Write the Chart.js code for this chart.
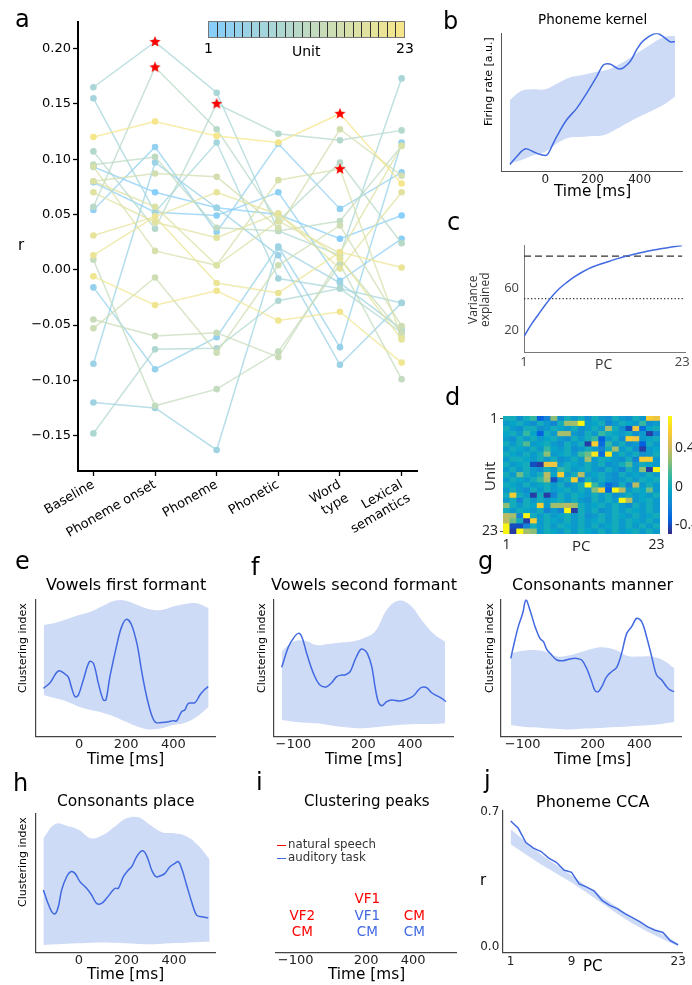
<!DOCTYPE html>
<html><head><meta charset="utf-8">
<script src="https://cdn.jsdelivr.net/npm/chart.js@4.4.1/dist/chart.umd.min.js"></script>
<style>
html,body{margin:0;padding:0;background:#fff;}
body{width:692px;height:985px;position:relative;overflow:hidden;font-family:"DejaVu Sans",sans-serif;color:#000;}
canvas{position:absolute;}
.t{position:absolute;white-space:nowrap;line-height:1;}
</style></head><body>
<canvas id="ca" width="430" height="550" style="left:0;top:0"></canvas>
<canvas id="cb" width="262" height="200" style="left:430px;top:0"></canvas>
<canvas id="cc" width="262" height="150" style="left:430px;top:220px"></canvas>
<canvas id="cd" width="262" height="165" style="left:430px;top:390px"></canvas>
<canvas id="ce" width="230" height="170" style="left:0;top:590px"></canvas>
<canvas id="cf" width="230" height="170" style="left:230px;top:590px"></canvas>
<canvas id="cg" width="232" height="170" style="left:460px;top:590px"></canvas>
<canvas id="ch" width="230" height="175" style="left:0;top:805px"></canvas>
<canvas id="ci" width="230" height="175" style="left:230px;top:805px"></canvas>
<canvas id="cj" width="232" height="175" style="left:460px;top:800px"></canvas>
<script>
// ---------------- DATA ----------------
const categories = ['Baseline','Phoneme onset','Phoneme','Phonetic',['Word','type'],['Lexical','semantics']];
const yTicksA = [-0.15,-0.10,-0.05,0,0.05,0.10,0.15,0.20];
// r per unit (1..23) for each category
const unit01 = [0.093, 0.070, 0.056, 0.050, 0.028, 0.049];
const unit02 = [0.079, 0.052, 0.049, 0.070, -0.010, 0.028];
const unit03 = [0.054, 0.111, 0.034, 0.114, 0.055, 0.088];
const unit04 = [-0.016, -0.090, -0.061, 0.021, -0.070, 0.115];
const unit05 = [-0.085, 0.097, 0.056, 0.013, -0.086, -0.030];
const unit06 = [-0.120, -0.125, -0.163, 0.020, -0.012, -0.054];
const unit07 = [0.155, 0.052, 0.115, -0.008, -0.017, -0.030];
const unit08 = [0.165, 0.206, 0.160, 0.035, 0.013, 0.173];
const unit09 = [-0.148, -0.072, -0.071, -0.028, -0.017, -0.057];
const unit10 = [0.107, 0.037, 0.150, 0.123, 0.117, 0.126];
const unit11 = [0.057, 0.183, 0.127, 0.044, 0.097, 0.024];
const unit12 = [0.095, 0.102, 0.038, 0.035, 0.044, 0.112];
const unit13 = [0.009, -0.123, -0.108, -0.074, 0.005, -0.099];
const unit14 = [-0.045, -0.060, -0.057, -0.079, 0.010, -0.057];
const unit15 = [-0.053, -0.007, -0.075, 0.004, 0.040, -0.051];
const unit16 = [0.080, 0.087, 0.084, 0.038, 0.127, 0.085];
const unit17 = [0.093, 0.017, 0.004, 0.081, 0.091, -0.061];
const unit18 = [0.080, 0.057, 0.004, 0.044, 0.015, 0.112];
const unit19 = [0.070, 0.043, 0.029, 0.051, 0.001, 0.070];
const unit20 = [0.031, 0.048, 0.070, 0.050, 0.010, -0.063];
const unit21 = [0.013, 0.048, -0.012, -0.021, 0.016, 0.002];
const unit22 = [-0.006, -0.032, -0.019, -0.046, -0.038, -0.084];
const unit23 = [0.120, 0.134, 0.121, 0.115, 0.141, 0.078];
const unitRs = [unit01,unit02,unit03,unit04,unit05,unit06,unit07,unit08,unit09,unit10,unit11,unit12,unit13,unit14,unit15,unit16,unit17,unit18,unit19,unit20,unit21,unit22,unit23];
const starUnit = [8, 11, 10, 23, 17];
const starCat  = [1, 1, 2, 4, 4];

// b: phoneme kernel
const bandTimes = [-150,-100,-50,0,50,100,150,200,250,300,350,400,450,500,550];
const bTime = [-150,-122,-86,-51,-23,6,27,48,90,133,175,218,246,274,317,359,387,416,472,500,529,550];
const bRate = [0.048,0.104,0.160,0.140,0.121,0.116,0.177,0.249,0.370,0.455,0.564,0.685,0.770,0.777,0.741,0.794,0.879,0.947,1.0,0.976,0.939,0.939];
const bLow  = [0.056,0.080,0.114,0.140,0.201,0.242,0.247,0.254,0.262,0.303,0.351,0.395,0.436,0.479,0.540];
const bHigh = [0.516,0.583,0.593,0.593,0.636,0.678,0.695,0.714,0.729,0.763,0.811,0.867,0.923,0.971,0.983];
const timeTicks1 = [0,200,400];
const timeTicks2 = [-100,200,400];

// c: variance explained
const pcs = [1,2,3,4,5,6,7,8,9,10,11,12,13,14,15,16,17,18,19,20,21,22,23];
const cVar = [14.5,25.6,35.2,44.6,53.0,60.0,65.5,70.4,74.6,78.2,81.0,83.3,85.4,87.6,89.6,91.3,92.9,94.3,95.6,96.8,97.9,98.9,100];
const cThresholds = [90, 50];
const cYTicks = [20, 60];
const cXTicks = [1, 23];

// d: PCA loadings (rows = units 1..23, columns = PC 1..23)
const pcLabels = ['1','2','3','4','5','6','7','8','9','10','11','12','13','14','15','16','17','18','19','20','21','22','23'];
const heat = [
[0,0,-0.15,0,0.1,-0.35,-0.2,0.25,-0.15,0,-0.1,0,-0.15,0,-0.1,-0.15,0,-0.1,-0.15,0,-0.1,0.55,0.5],
[-0.1,-0.05,0,-0.1,-0.15,0,-0.1,-0.2,0,0.3,0.3,0.7,-0.1,-0.05,0,-0.2,-0.1,0,-0.05,-0.1,0.1,-0.15,-0.1],
[0,-0.1,-0.15,0,0,-0.15,-0.1,0,-0.05,-0.1,0,-0.15,-0.1,0,-0.1,0.3,0,-0.15,-0.4,0.5,-0.3,-0.05,0],
[-0.05,0,-0.1,0.1,-0.05,-0.35,0,-0.1,0.3,0.3,-0.1,-0.15,0,-0.1,0.1,0,-0.05,-0.1,0,-0.15,-0.1,-0.45,-0.2],
[-0.1,-0.15,0,-0.1,0,-0.1,-0.05,0,-0.1,-0.15,0,-0.1,0,0.1,-0.35,-0.1,0,-0.15,0.55,0.5,-0.1,-0.05,0],
[0,-0.1,0,0.15,-0.1,-0.05,0,-0.1,-0.15,0,-0.1,0,-0.45,0.55,-0.3,0.1,-0.1,0,-0.15,-0.1,-0.35,0,-0.1],
[-0.1,0,-0.05,-0.1,0,-0.1,0.1,-0.05,-0.1,0,-0.15,-0.1,0,-0.1,-0.2,0,0.3,-0.1,0,-0.15,-0.45,-0.1,-0.05],
[0,-0.05,-0.1,0,-0.1,0,0.25,-0.1,-0.05,0,-0.1,0.1,0.2,0.65,-0.3,0.65,-0.1,0,-0.1,0,-0.15,-0.1,0],
[-0.1,0,0,-0.05,-0.1,0,-0.1,0,-0.15,-0.1,0,-0.1,0.3,-0.1,0,-0.05,-0.1,-0.15,0,-0.2,0.55,0.55,-0.1],
[0,-0.1,-0.05,0,-0.4,-0.45,0.5,0.5,-0.1,0,-0.05,-0.1,0,-0.1,0,-0.15,-0.1,0,0.15,-0.1,0,-0.05,-0.1],
[-0.1,0,-0.1,0,-0.1,-0.15,0,-0.1,0.1,0,-0.1,-0.05,0,-0.1,-0.15,0,-0.1,-0.2,0,-0.1,0.25,-0.45,0.7],
[0,-0.1,0.2,0,-0.1,0,0.35,-0.05,0.55,-0.1,0,0.35,-0.1,-0.05,0,-0.1,-0.15,0,-0.1,-0.05,-0.1,0,-0.1],
[-0.1,0,-0.05,-0.1,0,0.1,0.3,-0.4,-0.1,0,0.55,-0.2,0,-0.1,0,-0.1,-0.15,-0.1,0,-0.1,0,-0.05,0],
[0,-0.05,-0.1,0,-0.1,-0.05,0,-0.1,0,-0.15,-0.1,0,0.7,0.1,-0.1,-0.3,-0.2,0,-0.2,0.35,-0.1,0,-0.1],
[-0.1,0,-0.1,-0.15,0,-0.1,0,-0.1,-0.05,0,-0.1,0,-0.1,0.25,0.55,-0.35,0.7,0.35,-0.1,0,-0.05,0.2,-0.1],
[0,0.55,0,-0.1,-0.45,0,-0.45,-0.2,0,-0.1,0,-0.05,-0.1,0,-0.1,0,-0.15,-0.1,0,-0.1,-0.05,-0.1,0],
[-0.1,0,-0.2,0,-0.1,0,-0.1,-0.05,0,-0.1,0,-0.1,-0.15,0,-0.1,0,-0.1,0.7,0.35,-0.1,-0.05,0,-0.1],
[0.25,0,-0.1,0,-0.05,0.55,-0.1,0.3,0.3,0.35,0.3,0,-0.1,-0.05,0,-0.1,0,-0.1,-0.15,0,-0.1,0,-0.1],
[0,-0.1,0,-0.05,-0.1,0,-0.2,-0.1,-0.2,0.7,-0.45,0,-0.1,0,-0.15,-0.1,0,-0.1,0,-0.05,-0.1,0,-0.1],
[0.35,0.3,-0.2,0.7,0,-0.1,0,-0.1,-0.05,0,-0.1,0,-0.15,-0.1,0,-0.1,0,-0.05,-0.1,0,-0.1,-0.05,0],
[0.35,0.2,0,-0.45,0.55,-0.1,0,-0.05,-0.1,0,-0.1,0,-0.1,-0.05,0,-0.1,0,-0.1,0,-0.05,-0.1,0,-0.1],
[0.7,-0.4,-0.4,-0.2,0,-0.1,0,-0.1,0,-0.05,-0.1,0,-0.1,0,-0.1,-0.05,0,-0.1,0,-0.1,0,-0.1,0],
[0.7,-0.45,0.72,0.3,0.25,-0.1,0,-0.05,-0.1,0,-0.1,0,-0.05,-0.1,0,-0.1,0,-0.1,-0.05,0,-0.1,0,-0.1]
];
const heatMin = -0.5, heatMax = 0.72;
const heatTicks = [0.4, 0, -0.4];
const dUnitTickLabels = ['1','23'];

// e-h: clustering index over time
const eTime = [-151,-123,-88,-59,-45,-31,-17,-3,18,44,61,82,103,114,131,160,181,202,223,247,266,287,308,325,351,379,400,414,435,449,464,492,513,534,548];
const eIdx  = [.352,.393,.478,.456,.432,.352,.291,.303,.413,.546,.534,.388,.267,.267,.437,.667,.801,.854,.813,.667,.473,.291,.158,.104,.104,.109,.117,.114,.182,.194,.243,.248,.303,.345,.364];
const eLow  = [.303,.279,.255,.218,.194,.175,.146,.109,.073,.053,.061,.085,.102,.146,.218];
const eHigh = [.813,.830,.857,.886,.910,.951,.990,.990,.956,.927,.922,.947,.966,.971,.934];

const fTime = [-150,-121,-100,-79,-64,-43,-14,14,43,64,86,107,121,143,164,186,200,217,236,250,264,279,300,321,357,386,414,436,450,471,493,514,536,554];
const fIdx  = [.505,.655,.716,.752,.728,.607,.461,.376,.364,.393,.437,.449,.449,.473,.558,.631,.636,.607,.510,.364,.255,.226,.255,.267,.260,.272,.296,.340,.359,.357,.320,.299,.279,.255];
const fLow  = [.121,.109,.102,.097,.085,.073,.066,.061,.068,.078,.085,.090,.092,.092,.097];
const fHigh = [.619,.692,.699,.667,.675,.684,.692,.716,.765,.922,.990,.959,.850,.752,.692];

const gTime = [-151,-140,-119,-100,-86,-69,-47,-26,-11,3,24,46,74,103,131,153,174,196,210,224,239,260,281,303,324,346,367,389,410,431,453,474,496,517,531,549];
const gIdx  = [.570,.655,.801,.898,.995,.922,.801,.716,.692,.636,.595,.558,.553,.566,.570,.558,.498,.400,.335,.328,.364,.437,.473,.505,.607,.752,.801,.862,.837,.728,.583,.449,.413,.364,.340,.328];
const gLow  = [.085,.073,.068,.061,.056,.053,.058,.061,.066,.070,.075,.080,.085,.095,.107];
const gHigh = [.607,.626,.631,.617,.583,.592,.617,.641,.650,.631,.587,.583,.583,.558,.498];

const hTime = [-150,-133,-115,-101,-87,-73,-52,-35,-17,4,32,53,74,95,116,138,152,166,187,208,222,243,264,278,292,306,324,341,362,383,404,418,432,453,474,495,516,544];
const hIdx  = [.450,.366,.294,.278,.330,.450,.545,.581,.569,.510,.462,.414,.354,.354,.390,.438,.462,.462,.545,.593,.617,.689,.730,.718,.665,.593,.545,.550,.569,.617,.641,.653,.605,.486,.366,.270,.258,.251];
const hLow  = [.055,.060,.065,.067,.072,.074,.072,.067,.062,.060,.065,.069,.072,.077,.079];
const hHigh = [.821,.923,.909,.880,.821,.844,.904,.964,.971,.916,.864,.856,.837,.773,.670];

// i: clustering peaks
const natTimes = [-72, -72, 205, 405];
const natRows  = [2, 1, 3, 2];
const natNames = ['VF2','CM','VF1','CM'];
const audTimes = [205, 205, 405];
const audRows  = [2, 1, 1];
const audNames = ['VF1','CM','CM'];

// j: phoneme CCA
const jR = [.654,.616,.542,.513,.495,.461,.439,.399,.387,.327,.310,.289,.241,.215,.198,.172,.151,.129,.103,.086,.074,.031,.010];
const jBandPC = [1,3,5,7,9,11,13,15,17,19,21,23];
const jHigh = [.611,.545,.480,.425,.370,.315,.260,.205,.152,.106,.062,.017];
const jLow  = [.533,.480,.428,.381,.334,.281,.226,.172,.121,.078,.039,.003];
const jXTicks = [1, 9, 23];
const jYTicks = [0, 0.7];

// ---------------- HELPERS ----------------
Chart.defaults.font.family = "'DejaVu Sans', sans-serif";
Chart.defaults.animation = false;
Chart.defaults.responsive = false;
Chart.defaults.events = [];
Chart.defaults.plugins.legend.display = false;
Chart.defaults.plugins.tooltip.enabled = false;

const BAND = 'rgb(206,219,246)';
const LINE = 'rgb(65,105,225)';
const RED = 'rgb(255,0,0)';
const minus = v => String(v).replace('-', '\u2212');
const pts = (xs, ys) => xs.map((x, i) => ({x: x, y: ys[i]}));
const fixW = w => s => { s.width = w; };
const fixH = h => s => { s.height = h; };
const setTicks = arr => s => { s.ticks = arr.map(v => ({value: v})); };

function unitColor(u, a) {
  const t = (u - 1) / 22;
  const r = Math.round(135 + t * (245 - 135));
  const g = Math.round(206 + t * (230 - 206));
  const b = Math.round(250 + t * (140 - 250));
  return `rgba(${r},${g},${b},${a})`;
}
const parulaStops = [[53,42,135],[3,99,225],[20,133,212],[6,167,198],[56,185,158],[146,191,115],[217,186,86],[252,206,46],[249,251,14]];
function parula(t) {
  t = Math.max(0, Math.min(1, t));
  const p = t * 8, i = Math.min(7, Math.floor(p)), f = p - i;
  const a = parulaStops[i], b = parulaStops[i + 1];
  return `rgb(${Math.round(a[0]+(b[0]-a[0])*f)},${Math.round(a[1]+(b[1]-a[1])*f)},${Math.round(a[2]+(b[2]-a[2])*f)})`;
}
function starImg(r) {
  const c = document.createElement('canvas');
  const s = Math.ceil(2 * r) + 2; c.width = s; c.height = s;
  const g = c.getContext('2d'); g.fillStyle = RED; g.beginPath();
  for (let i = 0; i < 10; i++) {
    const rr = i % 2 ? r * 0.42 : r; const a = -Math.PI / 2 + i * Math.PI / 5;
    g.lineTo(s / 2 + rr * Math.cos(a), s / 2 + rr * Math.sin(a));
  }
  g.closePath(); g.fill(); return c;
}
function T(s, x, y, o = {}) {
  const d = document.createElement('div'); d.className = 't'; d.innerHTML = s;
  d.style.fontSize = (o.size || 13) + 'px';
  if (o.font) d.style.fontFamily = o.font;
  d.style.color = o.color || '#000';
  if (o.lh) d.style.lineHeight = o.lh;
  if (o.ta) d.style.textAlign = o.ta;
  d.style.left = '0px'; d.style.top = '0px';
  document.body.appendChild(d);
  const w = d.getBoundingClientRect().width, h = d.getBoundingClientRect().height;
  const left = o.left ? Math.round(x) : Math.round(x - w / 2);
  const top = Math.round(y - h / 2);
  d.style.left = left + 'px'; d.style.top = top + 'px';
  if (o.rot) { d.style.transformOrigin = `${Math.round(w / 2)}px ${Math.round(h / 2)}px`; d.style.transform = `rotate(${o.rot}deg)`; }
  return d;
}
function letter(s, x, baseline) {
  const d = document.createElement('div'); d.className = 't'; d.textContent = s;
  d.style.fontSize = '24px'; d.style.left = x + 'px'; d.style.top = Math.round(baseline - 20.3) + 'px';
  document.body.appendChild(d);
}

// ---------------- PANEL a ----------------
const unitDatasets = unitRs.map((vals, k) => ({
  data: vals.map((v, i) => ({x: i, y: v})),
  borderColor: unitColor(k + 1, 0.75),
  pointBackgroundColor: unitColor(k + 1, 1),
  pointBorderWidth: 0, pointRadius: 3.3, borderWidth: 1.5, tension: 0, order: 23 - k
}));
const starDataset = {
  data: starUnit.map((u, i) => ({x: starCat[i], y: unitRs[u - 1][starCat[i]]})),
  showLine: false, pointStyle: starImg(6), pointRadius: 6, order: -1
};
new Chart(document.getElementById('ca'), {
  type: 'line',
  data: {datasets: [starDataset, ...unitDatasets]},
  options: {
    layout: {autoPadding: false, padding: {top: 22, right: 13, left: 0, bottom: 0}},
    scales: {
      x: {type: 'linear', min: -0.25, max: 5.25, afterFit: fixH(79), afterBuildTicks: setTicks([0,1,2,3,4,5]),
        ticks: {callback: v => categories[v], autoSkip: false, minRotation: 30, maxRotation: 30, font: {size: 13}, color: '#000', padding: 1},
        grid: {display: true, drawOnChartArea: false, drawTicks: true, tickLength: 5, tickColor: '#000', tickWidth: 1.3},
        border: {color: '#000', width: 2}},
      y: {type: 'linear', min: -0.182, max: 0.224, afterFit: fixW(78), afterBuildTicks: setTicks(yTicksA),
        ticks: {callback: v => minus(v.toFixed(2)), font: {size: 13}, color: '#000', padding: 2},
        grid: {display: true, drawOnChartArea: false, drawTicks: true, tickLength: 5, tickColor: '#000', tickWidth: 1.3},
        border: {color: '#000', width: 2}}
    }
  }
});
// colorbar for units
(function(){
  const cb = document.createElement('div');
  Object.assign(cb.style, {position:'absolute', left:'208px', top:'21px', width:'197px', height:'17px', display:'flex', border:'1px solid #777', boxSizing:'border-box'});
  for (let u = 1; u <= 23; u++) {
    const c = document.createElement('div');
    Object.assign(c.style, {flex:'1', background: unitColor(u, 1), borderLeft: u > 1 ? '1px solid #333' : 'none'});
    cb.appendChild(c);
  }
  document.body.appendChild(cb);
})();
T('1', 208.5, 47.5, {size: 14});
T('23', 404.5, 47.5, {size: 14});
T('Unit', 306, 51, {size: 14});
T('r', 21, 245, {size: 15});

// ---------------- trace panels ----------------
function tracePanel(id, o) {
  const ds = [
    {data: pts(o.t, o.v), borderColor: LINE, borderWidth: 1.5, pointRadius: 0, tension: o.tension ?? 0.35, fill: false}
  ];
  if (o.lo) {
    ds.push({data: pts(o.bt, o.lo), borderWidth: 0, borderColor: 'rgba(0,0,0,0)', pointRadius: 0, tension: o.tension ?? 0.4, fill: false});
    ds.push({data: pts(o.bt, o.hi), borderWidth: 0, borderColor: 'rgba(0,0,0,0)', pointRadius: 0, tension: o.tension ?? 0.4, fill: '-1', backgroundColor: BAND});
  }
  if (o.extra) o.extra.forEach(e => ds.push(e));
  return new Chart(document.getElementById(id), {
    type: 'line',
    data: {datasets: ds},
    options: {
      layout: {autoPadding: false, padding: {top: o.padTop, right: o.padRight, left: 0, bottom: 0}},
      scales: {
        x: {type: 'linear', min: o.xmin, max: o.xmax, afterFit: fixH(o.xh), afterBuildTicks: setTicks(o.xticks),
          ticks: {autoSkip: false, maxRotation: 0, minRotation: 0, font: {size: o.fs || 13, family: o.family}, color: o.tc || '#222', padding: o.tp ?? 0,
                  callback: o.xcb || (v => minus(v))},
          grid: {display: false, drawTicks: false}, border: {color: o.ac || '#444', width: o.aw || 1.2}},
        y: {type: 'linear', min: o.ymin ?? 0, max: o.ymax ?? 1, afterFit: fixW(o.yw),
          afterBuildTicks: o.yticks ? setTicks(o.yticks) : undefined,
          ticks: o.yticks ? {autoSkip: false, font: {size: o.fs || 13, family: o.family}, color: o.tc || '#222', padding: o.ytp ?? 3, callback: o.ycb} : {display: false},
          grid: {display: false, drawTicks: false}, border: {color: o.ac || '#444', width: o.aw || 1.2}}
      }
    }
  });
}

// b
tracePanel('cb', {t: bTime, v: bRate, bt: bandTimes, lo: bLow, hi: bHigh, xmin: -188, xmax: 581, xticks: timeTicks1,
  yw: 71, xh: 29, padTop: 33.3, padRight: 9.7, fs: 12, tp: 2, ac: '#555', aw: 1});
T('Phoneme kernel', 593, 20, {size: 13.5});
T('Time [ms]', 592.5, 192, {size: 15.3});
T('Firing rate [a.u.]', 489, 81, {size: 11, rot: -90});

// c
tracePanel('cc', {t: pcs, v: cVar, tension: 0.4, xmin: 1, xmax: 23.4, ymin: 0, ymax: 100, xticks: cXTicks, yticks: cYTicks,
  yw: 94, xh: 18, padTop: 25.4, padRight: 7, fs: 13, family: "'Open Sans', sans-serif", tc: '#444', tp: 2, ytp: 5, ac: '#777', aw: 1,
  extra: [
    {data: pts([1, 23], [cThresholds[0], cThresholds[0]]), borderColor: '#333', borderWidth: 1.3, borderDash: [7, 4], pointRadius: 0, fill: false},
    {data: pts([1, 23.4], [cThresholds[1], cThresholds[1]]), borderColor: '#333', borderWidth: 1.3, borderDash: [1.3, 2.2], pointRadius: 0, fill: false}
  ]});
T('Variance<br>explained', 479, 300, {size: 12, rot: -90, font: "'Open Sans', sans-serif", lh: '12px', ta: 'center', color: '#333'});
T('PC', 603.3, 364, {size: 14, font: "'Open Sans', sans-serif", color: '#333'});

// d heatmap: stacked unit rows, bottom = unit 23
(function(){
  const ds = [];
  for (let u = 23; u >= 1; u--) {
    ds.push({data: heat[u - 1].map(() => 1), backgroundColor: heat[u - 1].map(v => parula((v - heatMin) / (heatMax - heatMin))),
      borderWidth: 0, barPercentage: 1, categoryPercentage: 1});
  }
  new Chart(document.getElementById('cd'), {
    type: 'bar',
    data: {labels: pcLabels, datasets: ds},
    options: {
      layout: {autoPadding: false, padding: {top: 26, right: 32, left: 0, bottom: 0}},
      scales: {
        x: {stacked: true, afterFit: fixH(21),
          ticks: {autoSkip: false, maxRotation: 0, font: {size: 14, family: "'Open Sans', sans-serif"}, color: '#222', padding: 3,
            callback: (v, i) => (i === 0 || i === pcLabels.length - 1) ? pcLabels[i] : ''},
          grid: {display: false, drawTicks: false}, border: {display: false}},
        y: {stacked: true, min: 0, max: 23, afterFit: fixW(73), afterBuildTicks: setTicks([22.5, 0.5]),
          ticks: {autoSkip: false, font: {size: 14, family: "'Open Sans', sans-serif"}, color: '#222', padding: 2,
            callback: v => v > 10 ? dUnitTickLabels[0] : dUnitTickLabels[1]},
          grid: {display: true, drawOnChartArea: false, drawTicks: true, tickLength: 3, tickColor: '#555'}, border: {display: false}}
      }
    }
  });
  // colorbar
  const cb = document.createElement('div');
  Object.assign(cb.style, {position:'absolute', left:'668px', top:'416px', width:'4px', height:'118px',
    background: `linear-gradient(to bottom, ${parulaStops.slice().reverse().map((c,i)=>`rgb(${c[0]},${c[1]},${c[2]}) ${(i*12.5).toFixed(1)}%`).join(',')})`});
  document.body.appendChild(cb);
  heatTicks.forEach(v => {
    const y = 534 - (v - heatMin) / (heatMax - heatMin) * 118;
    T(v === 0 ? '0' : v.toFixed(1), 675, y, {size: 14, left: true, font: "'Open Sans', sans-serif", color: '#222'});
  });
})();
T('Unit', 490, 475, {size: 15, rot: -90, font: "'Open Sans', sans-serif", color: '#222'});
T('PC', 581.7, 545, {size: 15, font: "'Open Sans', sans-serif", color: '#222'});

// e-h
tracePanel('ce', {t: eTime, v: eIdx, bt: bandTimes, lo: eLow, hi: eHigh, xmin: -184, xmax: 577, xticks: timeTicks1, yw: 35.7, xh: 23.3, padTop: 9.3, padRight: 15});
tracePanel('cf', {t: fTime, v: fIdx, bt: bandTimes, lo: fLow, hi: fHigh, xmin: -186, xmax: 585.5, xticks: timeTicks2, yw: 43.3, xh: 23.3, padTop: 9.3, padRight: 6.7});
tracePanel('cg', {t: gTime, v: gIdx, bt: bandTimes, lo: gLow, hi: gHigh, xmin: -193, xmax: 581.6, xticks: timeTicks2, yw: 41, xh: 23.3, padTop: 9.3, padRight: 10.3});
tracePanel('ch', {t: hTime, v: hIdx, bt: bandTimes, lo: hLow, hi: hHigh, xmin: -182.3, xmax: 575.6, xticks: timeTicks1, yw: 35.7, xh: 27.3, padTop: 8.3, padRight: 14.3});
T('Vowels first formant', 126, 585, {size: 16});
T('Vowels second formant', 364, 585, {size: 16});
T('Consonants manner', 592.5, 585, {size: 16});
T('Consonants place', 126, 801.7, {size: 15.5});
[[126,760],[364,760],[592.5,760],[126,975],[366.3,975]].forEach(p => T('Time [ms]', p[0], p[1], {size: 15.3}));
[[23,647.5],[262,647.5],[490,647.5],[23,861.7]].forEach(p => T('Clustering index', p[0], p[1], {size: 11, rot: -90}));

// i: peaks
const peakLabels = {
  id: 'peakLabels',
  afterDatasetsDraw(chart) {
    const c = chart.ctx;
    chart.data.datasets.forEach((ds, di) => {
      chart.getDatasetMeta(di).data.forEach((pt, i) => {
        c.save(); c.fillStyle = ds.labelColor; c.font = "13.5px 'DejaVu Sans'";
        c.textAlign = 'center'; c.textBaseline = 'middle';
        c.fillText(ds.names[i], pt.x, pt.y); c.restore();
      });
    });
  }
};
new Chart(document.getElementById('ci'), {
  type: 'scatter',
  data: {datasets: [
    {data: pts(natTimes, natRows), names: natNames, labelColor: RED, pointRadius: 0},
    {data: pts(audTimes, audRows), names: audNames, labelColor: LINE, pointRadius: 0}
  ]},
  options: {
    layout: {autoPadding: false, padding: {top: 15, right: 3.3, left: 45.7, bottom: 0}},
    scales: {
      x: {type: 'linear', min: -185, max: 585, afterFit: fixH(27.3), afterBuildTicks: setTicks(timeTicks2),
        ticks: {autoSkip: false, maxRotation: 0, font: {size: 13}, color: '#222', padding: 0, callback: v => minus(v)},
        grid: {display: false, drawTicks: false}, border: {color: '#444', width: 1.2}},
      y: {display: false, min: -0.2, max: 7.8}
    }
  },
  plugins: [peakLabels]
});
T('Clustering peaks', 366.7, 801.7, {size: 15});
(function(){
  [[845, RED, 'natural speech'], [858.3, LINE, 'auditory task']].forEach(([y, col, s]) => {
    const l = document.createElement('div');
    Object.assign(l.style, {position:'absolute', left:'277px', top:Math.round(y)+'px', width:'9px', height:'1px', background: col});
    document.body.appendChild(l);
    T(s, 288.3, y, {size: 11.8, left: true, color: '#333'});
  });
})();

// j
tracePanel('cj', {t: pcs, v: jR, bt: jBandPC, lo: jLow, hi: jHigh, tension: 0, xmin: -0.1, xmax: 23.6, ymin: -0.031, ymax: 0.71,
  xticks: jXTicks, yticks: jYTicks, ycb: v => v.toFixed(1), xcb: v => String(v),
  yw: 42.3, xh: 22.3, padTop: 9, padRight: 9.3, fs: 12, tp: 2, ytp: 3});
T('Phoneme CCA', 592.7, 801.7, {size: 16});
T('r', 483, 880, {size: 15});
T('PC', 593, 966.7, {size: 15});

// panel letters
letter('a', 15, 27); letter('b', 443, 29.3); letter('c', 447, 230.7); letter('d', 445, 405);
letter('e', 15, 569); letter('f', 251, 575); letter('g', 478, 569);
letter('h', 13, 791); letter('i', 256, 790); letter('j', 484, 788);
</script>
</body></html>
